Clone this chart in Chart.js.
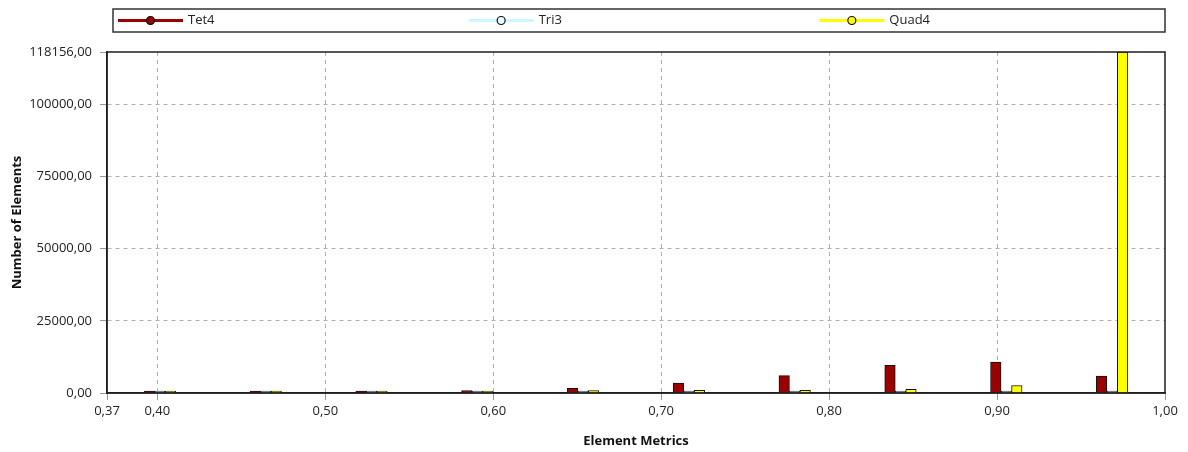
<!DOCTYPE html>
<html>
<head>
<meta charset="utf-8">
<script src="https://cdn.jsdelivr.net/npm/chart.js@4.4.1/dist/chart.umd.min.js"></script>
<style>
  html, body { margin: 0; padding: 0; background: #fff; }
  canvas { display: block; }
</style>
</head>
<body>
<canvas id="metricChart" width="1188" height="452"></canvas>
<script>
// Histogram bins (centres) of the element metric, and counts per element type
const binCenters = [0.4015, 0.4645, 0.5275, 0.5905, 0.6535, 0.7165, 0.7795, 0.8425, 0.9055, 0.9685];
const tet4Counts = [500, 480, 500, 850, 1600, 3450, 6000, 9600, 10750, 5900];
const tri3Counts = [450, 450, 460, 480, 450, 450, 450, 450, 450, 500];
const quad4Counts = [480, 460, 480, 500, 850, 900, 900, 1250, 2600, 118156];

const xTicks = [0.37, 0.40, 0.50, 0.60, 0.70, 0.80, 0.90, 1.00];
const yTicks = [0, 25000, 50000, 75000, 100000, 118156];

const seriesNames = ['Tet4', 'Tri3', 'Quad4'];
const seriesColors = ['#990000', '#ccf8ff', '#ffff00'];
const markerFills = ['#990000', '#e8ffff', '#ffff00'];

const FONT = '"Open Sans", "Noto Sans", sans-serif';
const fmt = v => Number(v).toFixed(2).replace('.', ',');

function toPoints(values) {
    return binCenters.map((x, i) => ({ x: x, y: values[i] }));
}

// box round the plot area (top and right sides are not drawn by the axes)
const plotFrame = {
    id: 'plotFrame',
    afterDatasetsDraw(chart) {
        const { ctx, chartArea: a } = chart;
        ctx.save();
        ctx.strokeStyle = '#1e1e1e';
        ctx.lineWidth = 1.5;
        ctx.strokeRect(a.left, a.top, a.right - a.left, a.bottom - a.top);
        ctx.restore();
    }
};

// legend strip above the plot, items spread over three equal cells
const legendStrip = {
    id: 'legendStrip',
    afterDraw(chart) {
        const ctx = chart.ctx;
        const left = 113, top = 9, right = chart.chartArea.right, height = 23;
        const cell = (right - left) / chart.data.datasets.length;
        const cy = top + height / 2;
        ctx.save();
        ctx.strokeStyle = '#333';
        ctx.lineWidth = 1.5;
        ctx.strokeRect(left, top, right - left, height);
        chart.data.datasets.forEach((ds, i) => {
            const x0 = left + i * cell + 5;
            ctx.strokeStyle = seriesColors[i];
            ctx.lineWidth = 3;
            ctx.beginPath();
            ctx.moveTo(x0, cy);
            ctx.lineTo(x0 + 65, cy);
            ctx.stroke();
            ctx.beginPath();
            ctx.arc(x0 + 32.5, cy, 4, 0, Math.PI * 2);
            ctx.fillStyle = markerFills[i];
            ctx.fill();
            ctx.lineWidth = 1.2;
            ctx.strokeStyle = '#111';
            ctx.stroke();
            ctx.fillStyle = '#222';
            ctx.font = '13px ' + FONT;
            ctx.textBaseline = 'middle';
            ctx.fillText(ds.label, x0 + 70, cy);
        });
        ctx.restore();
    }
};

const ctx = document.getElementById('metricChart').getContext('2d');
const chart = new Chart(ctx, {
    type: 'bar',
    data: {
        datasets: [
            { label: seriesNames[0], data: toPoints(tet4Counts), backgroundColor: seriesColors[0] },
            { label: seriesNames[1], data: toPoints(tri3Counts), backgroundColor: seriesColors[1] },
            { label: seriesNames[2], data: toPoints(quad4Counts), backgroundColor: seriesColors[2] }
        ]
    },
    options: {
        responsive: false,
        animation: false,
        layout: { padding: { top: 52, right: 23, left: 0, bottom: 0 } },
        datasets: {
            bar: {
                barThickness: 10.5,
                minBarLength: 2,
                borderColor: '#111',
                borderWidth: 1
            }
        },
        plugins: {
            legend: { display: false },
            tooltip: { enabled: false }
        },
        scales: {
            x: {
                type: 'linear',
                min: 0.37,
                max: 1.0,
                offset: false,
                afterBuildTicks: s => { s.ticks = xTicks.map(v => ({ value: v })); },
                afterFit: s => { s.height = 59; },
                ticks: {
                    autoSkip: false,
                    maxRotation: 0,
                    padding: 3,
                    color: '#222',
                    font: { family: FONT, size: 13 },
                    callback: v => fmt(v)
                },
                grid: {
                    offset: false,
                    color: c => (c.tick && (c.tick.value === 0.37 || c.tick.value === 1.0)) ? 'rgba(0,0,0,0)' : '#b0b0b0',
                    tickColor: '#999',
                    tickLength: 7
                },
                border: { color: '#1e1e1e', width: 1.5, dash: [4, 4] },
                title: {
                    display: true,
                    text: 'Element Metrics',
                    color: '#111',
                    padding: { top: 0, bottom: 3 },
                    font: { family: FONT, size: 13, weight: 'bold' }
                }
            },
            y: {
                min: 0,
                max: 118156,
                afterBuildTicks: s => { s.ticks = yTicks.map(v => ({ value: v })); },
                afterFit: s => { s.width = 107; },
                ticks: {
                    padding: 8,
                    color: '#222',
                    font: { family: FONT, size: 13 },
                    callback: v => fmt(v)
                },
                grid: {
                    color: c => (c.tick && (c.tick.value === 0 || c.tick.value === 118156)) ? 'rgba(0,0,0,0)' : '#b0b0b0',
                    tickColor: '#999',
                    tickLength: 7
                },
                border: { color: '#1e1e1e', width: 1.5, dash: [4, 4] },
                title: {
                    display: true,
                    text: 'Number of Elements',
                    color: '#111',
                    padding: { top: 9, bottom: 0 },
                    font: { family: FONT, size: 13, weight: 'bold' }
                }
            }
        }
    },
    plugins: [plotFrame, legendStrip]
});
</script>
</body>
</html>
